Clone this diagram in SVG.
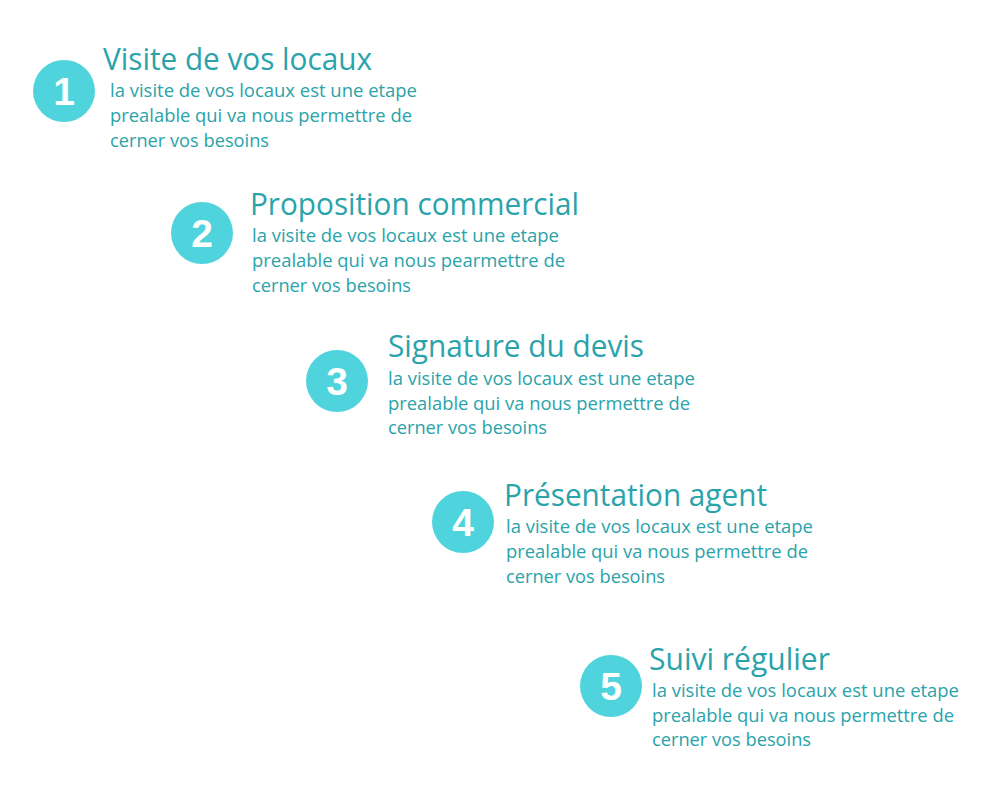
<svg xmlns="http://www.w3.org/2000/svg" width="1000" height="800" viewBox="0 0 1000 800">
<style>
.c{fill:#4fd3dc}
.n{fill:#fff;font-family:"Liberation Sans",Arial,sans-serif;font-weight:bold;font-size:39px;text-anchor:middle}
.t{fill:#2aa3aa;font-family:"Open Sans","Noto Sans",sans-serif;font-size:31px}
.b{fill:#2aa3aa;font-family:"Open Sans","Noto Sans",sans-serif;font-size:18px}
</style>
<rect width="1000" height="800" fill="#fff"/>
<g id="step1">
<circle class="c" cx="64" cy="91" r="31"/>
<text class="n" x="64" y="105">1</text>
<text class="t" x="103" y="70" textLength="269" lengthAdjust="spacingAndGlyphs">Visite de vos locaux</text>
<text class="b" x="110" y="97" textLength="307" lengthAdjust="spacingAndGlyphs">la visite de vos locaux est une etape</text>
<text class="b" x="110" y="122" textLength="302" lengthAdjust="spacingAndGlyphs">prealable qui va nous permettre de</text>
<text class="b" x="110" y="147" textLength="159" lengthAdjust="spacingAndGlyphs">cerner vos besoins</text>
</g>
<g id="step2">
<circle class="c" cx="202" cy="233" r="31"/>
<text class="n" x="202" y="247">2</text>
<text class="t" x="250" y="215" textLength="329" lengthAdjust="spacingAndGlyphs">Proposition commercial</text>
<text class="b" x="252" y="242" textLength="307" lengthAdjust="spacingAndGlyphs">la visite de vos locaux est une etape</text>
<text class="b" x="252" y="267" textLength="313" lengthAdjust="spacingAndGlyphs">prealable qui va nous pearmettre de</text>
<text class="b" x="252" y="292" textLength="159" lengthAdjust="spacingAndGlyphs">cerner vos besoins</text>
</g>
<g id="step3">
<circle class="c" cx="337" cy="381" r="31"/>
<text class="n" x="337" y="395">3</text>
<text class="t" x="388" y="357" textLength="256" lengthAdjust="spacingAndGlyphs">Signature du devis</text>
<text class="b" x="388" y="385" textLength="307" lengthAdjust="spacingAndGlyphs">la visite de vos locaux est une etape</text>
<text class="b" x="388" y="410" textLength="302" lengthAdjust="spacingAndGlyphs">prealable qui va nous permettre de</text>
<text class="b" x="388" y="434" textLength="159" lengthAdjust="spacingAndGlyphs">cerner vos besoins</text>
</g>
<g id="step4">
<circle class="c" cx="463" cy="522" r="31"/>
<text class="n" x="463" y="536">4</text>
<text class="t" x="504" y="506" textLength="263" lengthAdjust="spacingAndGlyphs">Présentation agent</text>
<text class="b" x="506" y="533" textLength="307" lengthAdjust="spacingAndGlyphs">la visite de vos locaux est une etape</text>
<text class="b" x="506" y="558" textLength="302" lengthAdjust="spacingAndGlyphs">prealable qui va nous permettre de</text>
<text class="b" x="506" y="583" textLength="159" lengthAdjust="spacingAndGlyphs">cerner vos besoins</text>
</g>
<g id="step5">
<circle class="c" cx="611" cy="686" r="31"/>
<text class="n" x="611" y="700">5</text>
<text class="t" x="649" y="670" textLength="181" lengthAdjust="spacingAndGlyphs">Suivi régulier</text>
<text class="b" x="652" y="697" textLength="307" lengthAdjust="spacingAndGlyphs">la visite de vos locaux est une etape</text>
<text class="b" x="652" y="722" textLength="302" lengthAdjust="spacingAndGlyphs">prealable qui va nous permettre de</text>
<text class="b" x="652" y="746" textLength="159" lengthAdjust="spacingAndGlyphs">cerner vos besoins</text>
</g>
<g id="connectors"></g>
</svg>
